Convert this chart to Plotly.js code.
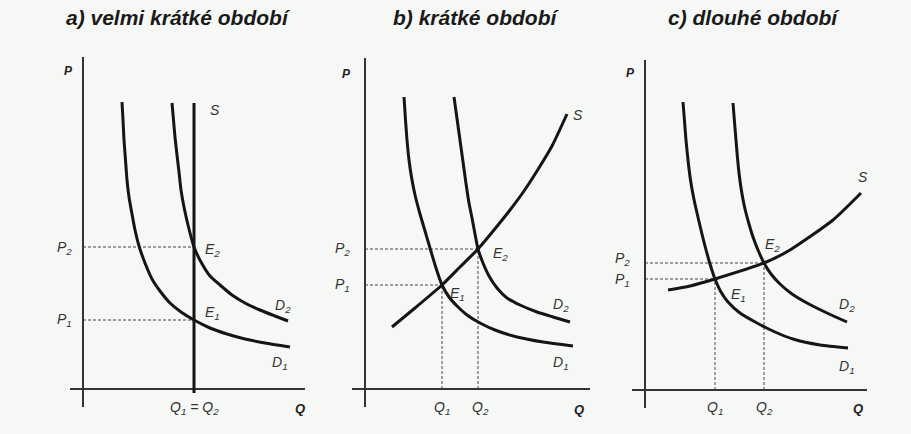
<!DOCTYPE html>
<html><head><meta charset="utf-8">
<script src="https://cdn.plot.ly/plotly-3.0.1.min.js"></script>
<style>html,body{margin:0;padding:0;background:#f6f8f5}</style>
</head><body><div id="chart" style="width:911px;height:434px"></div>
<script>
// ---------- data (Q, P units) ----------
const titles = ['a) velmi krátké období', 'b) krátké období', 'c) dlouhé období'];

// panel a) velmi krátké období
const aD1Q = [1.95, 2.0, 2.05, 2.125, 2.2, 2.3, 2.45, 2.6, 2.8, 3.1, 3.45, 3.85, 4.35, 4.9, 5.55, 6.35, 7.2, 8.1, 9.1, 10.35];
const aD1P = [14.35, 13.45, 12.45, 11.45, 10.45, 9.6, 8.75, 7.95, 7.15, 6.3, 5.5, 4.9, 4.3, 3.85, 3.45, 3.05, 2.75, 2.5, 2.3, 2.1];
const aD2Q = [4.45, 4.525, 4.6, 4.7, 4.8, 4.9, 5.05, 5.25, 5.55, 5.9, 6.35, 6.85, 7.45, 8.1, 8.85, 9.6, 10.25];
const aD2P = [14.3, 13.45, 12.6, 11.7, 10.85, 9.95, 9.1, 8.2, 7.1, 6.35, 5.65, 5.2, 4.7, 4.3, 3.95, 3.65, 3.4];
const aSQ = [5.55, 5.55];
const aSP = [-0.2, 14.3];
const aEqQ = [5.55, 5.55];
const aEqP = [3.45, 7.1];

// panel b) krátké období
const bD1Q = [1.95, 2.025, 2.1, 2.2, 2.35, 2.525, 2.75, 3.0, 3.25, 3.55, 3.85, 4.2, 4.6, 5.1, 5.75, 6.5, 7.6, 8.9, 10.4];
const bD1P = [14.6, 13.45, 12.45, 11.45, 10.45, 9.6, 8.75, 7.9, 7.05, 6.05, 5.2, 4.6, 4.15, 3.7, 3.3, 2.95, 2.6, 2.35, 2.15];
const bD2Q = [4.45, 4.575, 4.7, 4.825, 4.95, 5.075, 5.2, 5.35, 5.5, 5.65, 5.9, 6.2, 6.6, 7.1, 7.75, 8.6, 9.4, 10.25];
const bD2P = [14.6, 13.7, 12.8, 11.9, 11.0, 10.1, 9.3, 8.55, 7.75, 7.0, 6.3, 5.65, 5.05, 4.55, 4.2, 3.85, 3.6, 3.35];
const bSQ = [1.35, 2.5, 3.85, 4.75, 5.65, 6.45, 7.25, 7.95, 8.6, 9.35, 10.1];
const bSP = [3.1, 4.05, 5.2, 6.1, 7.0, 7.95, 8.95, 9.9, 10.9, 12.15, 13.75];
const bEqQ = [3.85, 5.65];
const bEqP = [5.2, 7.0];

// panel c) dlouhé období
const cD1Q = [1.9, 1.975, 2.05, 2.15, 2.275, 2.425, 2.6, 2.8, 3.0, 3.25, 3.5, 3.8, 4.15, 4.75, 5.6, 6.5, 7.4, 8.75, 10.15];
const cD1P = [14.4, 13.45, 12.5, 11.5, 10.5, 9.65, 8.85, 8.0, 7.2, 6.3, 5.55, 4.9, 4.4, 3.85, 3.35, 2.9, 2.55, 2.25, 2.1];
const cD2Q = [4.4, 4.475, 4.55, 4.625, 4.725, 4.85, 5.0, 5.2, 5.4, 5.65, 5.95, 6.3, 6.75, 7.35, 8.1, 9.1, 10.1];
const cD2P = [14.35, 13.4, 12.5, 11.6, 10.65, 9.8, 9.05, 8.3, 7.65, 7.0, 6.35, 5.8, 5.3, 4.8, 4.35, 3.85, 3.4];
const cSQ = [1.15, 2.25, 3.5, 5.95, 7.25, 9.4, 10.8];
const cSP = [5.0, 5.2, 5.55, 6.35, 7.0, 8.5, 9.85];
const cEqQ = [3.5, 5.95];
const cEqP = [5.55, 6.35];

// ---------- layout geometry (pixels) ----------
const W = 911, H = 434, PX = 20;
const geo = [
  {ox: 83,  oy: 389, left: 70,  right: 305, top: 57, bottom: 407, tx: 178},
  {ox: 365, oy: 389, left: 352, right: 590, top: 58, bottom: 407, tx: 477},
  {ox: 645, oy: 390, left: 632, right: 867, top: 60, bottom: 408, tx: 754}
];

const ink = '#151515';
const curve = {color: ink, width: 3};
const dash = {color: '#444', width: 1, dash: '3px,2px'};

const panels = [
  {D1: [aD1Q, aD1P], D2: [aD2Q, aD2P], S: [aSQ, aSP], eq: [aEqQ, aEqP], vert: false,
   labels: [['S', 6.6, 13.95], ['P<sub>2</sub>', -0.95, 7.05], ['P<sub>1</sub>', -0.95, 3.45],
            ['E<sub>2</sub>', 6.45, 6.95], ['E<sub>1</sub>', 6.45, 3.8],
            ['D<sub>2</sub>', 10.0, 4.15], ['D<sub>1</sub>', 9.85, 1.3],
            ['Q<sub>1</sub> = Q<sub>2</sub>', 5.55, -0.95]],
   P: [-0.75, 15.9], Q: [10.85, -0.95]},
  {D1: [bD1Q, bD1P], D2: [bD2Q, bD2P], S: [bSQ, bSP], eq: [bEqQ, bEqP], vert: true,
   labels: [['S', 10.65, 13.7], ['P<sub>2</sub>', -1.15, 7.0], ['P<sub>1</sub>', -1.15, 5.2],
            ['E<sub>2</sub>', 6.75, 6.75], ['E<sub>1</sub>', 4.6, 4.75],
            ['D<sub>2</sub>', 9.8, 4.2], ['D<sub>1</sub>', 9.8, 1.3],
            ['Q<sub>1</sub>', 3.85, -0.95], ['Q<sub>2</sub>', 5.8, -0.95]],
   P: [-0.95, 15.75], Q: [10.7, -1.0]},
  {D1: [cD1Q, cD1P], D2: [cD2Q, cD2P], S: [cSQ, cSP], eq: [cEqQ, cEqP], vert: true,
   labels: [['S', 10.9, 10.65], ['P<sub>2</sub>', -1.15, 6.55], ['P<sub>1</sub>', -1.15, 5.5],
            ['E<sub>2</sub>', 6.35, 7.25], ['E<sub>1</sub>', 4.65, 4.75],
            ['D<sub>2</sub>', 10.1, 4.25], ['D<sub>1</sub>', 10.1, 1.15],
            ['Q<sub>1</sub>', 3.5, -0.9], ['Q<sub>2</sub>', 5.95, -0.9]],
   P: [-0.75, 15.85], Q: [10.65, -0.9]}
];

const traces = [];
const annotations = [];
const layout = {
  width: W, height: H, margin: {l: 0, r: 0, t: 0, b: 0},
  paper_bgcolor: '#f6f8f5', plot_bgcolor: 'rgba(0,0,0,0)',
  showlegend: false, annotations: annotations
};

const FAM = 'Liberation Sans, Arial, sans-serif';
const labFont = {family: FAM, size: 14, color: '#333', style: 'italic'};
const axFont = {family: FAM, size: 12, color: '#222', style: 'italic', weight: 'bold'};

panels.forEach((pn, i) => {
  const g = geo[i];
  const xs = i === 0 ? '' : String(i + 1);
  const xa = 'x' + xs, ya = 'y' + xs;
  const px = q => (g.ox + q * PX) / W;
  const py = p => 1 - (g.oy - p * PX) / H;
  const axCommon = {showgrid: false, showticklabels: false, ticks: '', showline: false,
                    zeroline: true, zerolinecolor: '#333', zerolinewidth: 1.5, fixedrange: true};
  layout['xaxis' + xs] = Object.assign({}, axCommon, {
    domain: [g.left / W, g.right / W],
    range: [(g.left - g.ox) / PX, (g.right - g.ox) / PX], anchor: ya
  });
  layout['yaxis' + xs] = Object.assign({}, axCommon, {
    domain: [1 - g.bottom / H, 1 - g.top / H],
    range: [(g.oy - g.bottom) / PX, (g.oy - g.top) / PX], anchor: xa
  });

  const eqQ = pn.eq[0], eqP = pn.eq[1];
  for (let k = 0; k < eqQ.length; k++) {
    traces.push({x: [0, eqQ[k]], y: [eqP[k], eqP[k]], mode: 'lines', line: dash,
                 xaxis: xa, yaxis: ya, hoverinfo: 'skip'});
    if (pn.vert) {
      traces.push({x: [eqQ[k], eqQ[k]], y: [0, eqP[k]], mode: 'lines', line: dash,
                   xaxis: xa, yaxis: ya, hoverinfo: 'skip'});
    }
  }
  ['D1', 'D2', 'S'].forEach(key => {
    traces.push({x: pn[key][0], y: pn[key][1], mode: 'lines',
                 line: Object.assign({shape: 'spline', smoothing: 0.6}, curve),
                 xaxis: xa, yaxis: ya, hoverinfo: 'skip'});
  });

  pn.labels.forEach(l => {
    annotations.push({text: l[0], x: px(l[1]), y: py(l[2]), xref: 'paper', yref: 'paper', showarrow: false,
                      xanchor: 'center', yanchor: 'middle', font: labFont});
  });
  annotations.push({text: 'P', x: px(pn.P[0]), y: py(pn.P[1]), xref: 'paper', yref: 'paper', showarrow: false,
                    xanchor: 'center', yanchor: 'middle', font: axFont});
  annotations.push({text: 'Q', x: px(pn.Q[0]), y: py(pn.Q[1]), xref: 'paper', yref: 'paper', showarrow: false,
                    xanchor: 'center', yanchor: 'middle', font: Object.assign({}, axFont, {size: 13})});
  annotations.push({text: titles[i], x: g.tx / W, y: 1 - 17 / H, xref: 'paper', yref: 'paper',
                    showarrow: false, xanchor: 'center', yanchor: 'middle',
                    font: {family: FAM, size: 21, color: '#1a1a1a', style: 'italic', weight: 'bold'}});
});

Plotly.newPlot('chart', traces, layout, {staticPlot: true, displayModeBar: false});
</script></body></html>
